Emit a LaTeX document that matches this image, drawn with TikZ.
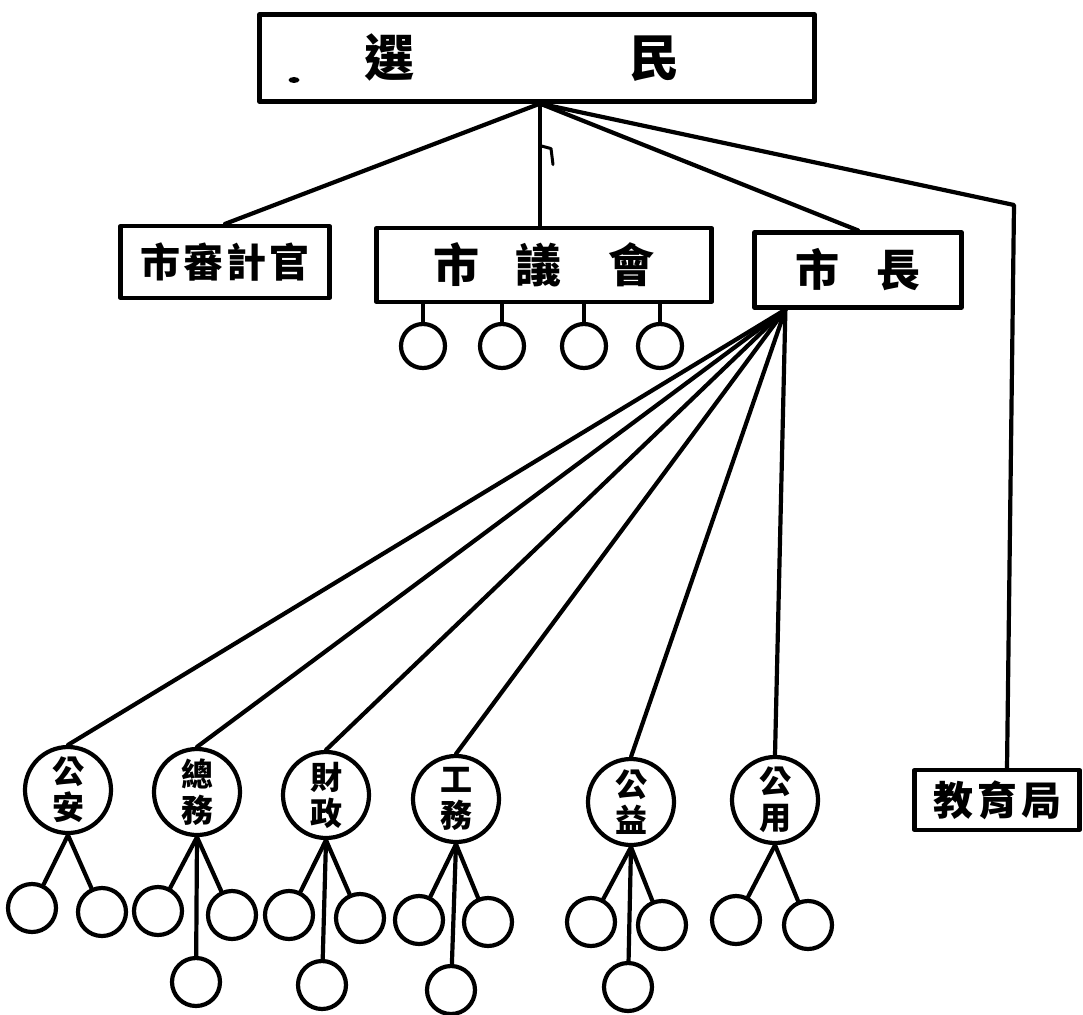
\documentclass[tikz,border=0pt]{standalone}
\usepackage{fontspec}
\newfontfamily\cjk{Noto Sans CJK TC}
\usetikzlibrary{calc,shapes.geometric}
\tikzset{
  ink/.style={line width=4.2pt, line cap=round, line join=round},
  office/.style={ink, draw, rectangle, inner sep=0pt},
  bureau/.style={ink, draw, circle, inner sep=0pt, minimum size=86pt,
    align=center, font=\cjk\bfseries\fontsize{32}{36}\selectfont},
  unit/.style={ink, draw, circle, inner sep=0pt, minimum size=48pt},
  seat/.style={ink, draw, circle, inner sep=0pt, minimum size=44pt},
  link/.style={ink},
}
\begin{document}
\begin{tikzpicture}[x=1pt, y=-1pt]
\useasboundingbox (0,0) rectangle (1083,1014);
\fill[white] (0,0) rectangle (1083,1014);

% electorate at the top
\node[office, minimum width=555pt, minimum height=87pt,
      font=\cjk\bfseries\fontsize{50}{50}\selectfont] (voters) at (537,58)
      {\hspace{-30pt}選\hspace{215pt}民};
\node[fill, ellipse, inner sep=0pt, minimum width=11pt, minimum height=6pt] (dot) at (294,80) {};

% elected offices
\node[office, minimum width=209pt, minimum height=72pt,
      font=\cjk\bfseries\fontsize{40}{40}\selectfont] (audit) at (225,262)
      {市\hspace{3pt}審\hspace{3pt}計\hspace{3pt}官};
\node[office, minimum width=335pt, minimum height=74pt,
      font=\cjk\bfseries\fontsize{46}{46}\selectfont] (council) at (544,265)
      {市\hspace{36pt}議\hspace{47pt}會};
\node[office, minimum width=207pt, minimum height=75pt,
      font=\cjk\bfseries\fontsize{44}{44}\selectfont] (mayor) at (858,270)
      {市\hspace{38pt}長};
\node[office, minimum width=165pt, minimum height=60pt,
      font=\cjk\bfseries\fontsize{40}{40}\selectfont] (edu) at (997,800)
      {教\hspace{4pt}育\hspace{4pt}局};

% council members
\node[seat] (s1) at (423,346) {};
\node[seat] (s2) at (502,346) {};
\node[seat] (s3) at (584,346) {};
\node[seat] (s4) at (660,346) {};
\foreach \s in {s1,s2,s3,s4}
  \draw[link] (\s.north) -- (\s.north |- council.south);

% links from the electorate
\coordinate (apex) at ($(voters.south)+(3,0)$);
\coordinate (bend) at (1014,205);
\draw[link] (apex) -- (audit.north);
\draw[link] (apex) -- (apex |- council.north);
\draw[link] (apex) -- (mayor.north);
\draw[link] (apex) -- (bend) -- ($(edu.north)+(10,0)$);
\draw[link, line width=3pt] ($(apex)+(0,42)$) -- ++(11,3) -- ++(2,16);

% departments under the mayor
\node[bureau] (ga) at (68,790)  {公\\安};
\node[bureau] (zw) at (197,792) {總\\務};
\node[bureau] (cz) at (326,795) {財\\政};
\node[bureau] (gw) at (456,799) {工\\務};
\node[bureau] (gy) at (631,802) {公\\益};
\node[bureau] (gu) at (775,800) {公\\用};

\coordinate (fan) at ($(mayor.south west)+(33,0)$);
\foreach \d in {ga,zw,cz,gw,gy,gu}
  \draw[link] (fan) -- (\d.north);

% sections under each department
\node[unit] (ga1) at (32,908)  {};
\node[unit] (ga2) at (102,912) {};
\node[unit] (zw1) at (158,911) {};
\node[unit] (zw2) at (232,915) {};
\node[unit] (zw3) at (196,982) {};
\node[unit] (cz1) at (289,915) {};
\node[unit] (cz2) at (360,918) {};
\node[unit] (cz3) at (322,985) {};
\node[unit] (gw1) at (419,920) {};
\node[unit] (gw2) at (488,922) {};
\node[unit] (gw3) at (451,990) {};
\node[unit] (gy1) at (591,922) {};
\node[unit] (gy2) at (662,925) {};
\node[unit] (gy3) at (628,987) {};
\node[unit] (gu1) at (736,920) {};
\node[unit] (gu2) at (808,925) {};

\foreach \p/\c in {ga/ga1,ga/ga2,zw/zw1,zw/zw2,zw/zw3,cz/cz1,cz/cz2,cz/cz3,
                   gw/gw1,gw/gw2,gw/gw3,gy/gy1,gy/gy2,gy/gy3,gu/gu1,gu/gu2}
  \draw[link] (\p.south) -- (\c);
\end{tikzpicture}
\end{document}
